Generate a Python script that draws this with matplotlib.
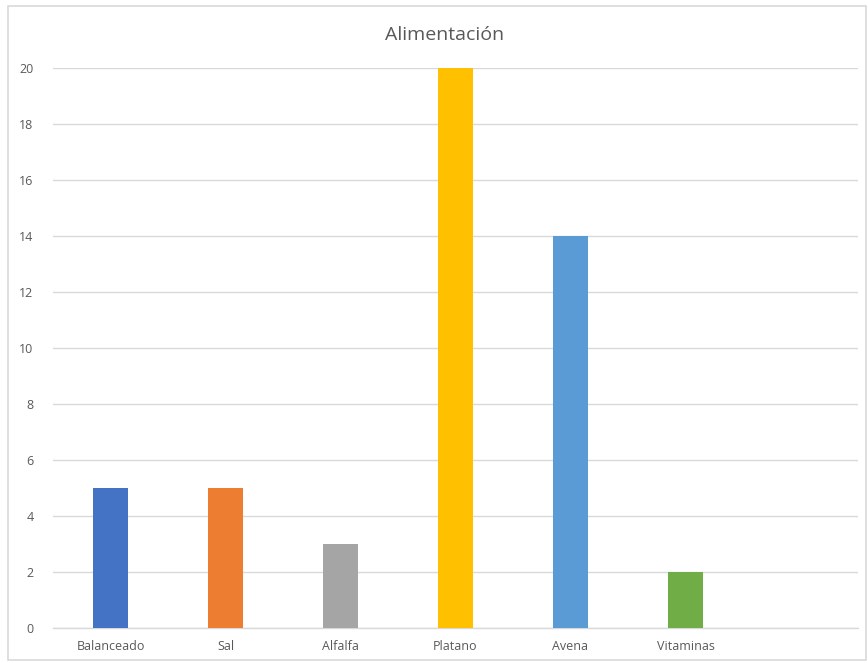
import matplotlib
matplotlib.use("Agg")
import matplotlib.pyplot as plt
from matplotlib.patches import Rectangle

categories = ["Balanceado", "Sal", "Alfalfa", "Platano", "Avena", "Vitaminas", ""]
values = [5, 5, 3, 20, 14, 2, 0]
colors = ["#4472C4", "#ED7D31", "#A5A5A5", "#FFC000", "#5B9BD5", "#70AD47", "#FFFFFF"]
yticks = [0, 2, 4, 6, 8, 10, 12, 14, 16, 18, 20]
title = "Alimentación"

plt.rcParams['font.family'] = ['Open Sans', 'DejaVu Sans']

W, H = 868, 663
fig = plt.figure(figsize=(W / 100, H / 100), dpi=100)
fig.patch.set_facecolor("white")
fig.add_artist(Rectangle((8 / W, 3 / H), (W - 10) / W, (H - 9) / H, transform=fig.transFigure,
                         fill=False, edgecolor="#D9D9D9", linewidth=1.2))

left, right, top, bottom = 53, 858, 68, 628
ax = fig.add_axes([left / W, (H - bottom) / H, (right - left) / W, (bottom - top) / H])
x = list(range(len(categories)))
ax.bar(x[:6], values[:6], width=0.31, color=colors[:6], zorder=3)
ax.set_xlim(-0.5, len(categories) - 0.5)
ax.set_ylim(0, 20)
ax.set_yticks(yticks)
ax.set_yticklabels([str(v) for v in yticks])
ax.set_xticks(x)
ax.set_xticklabels(categories)
ax.grid(axis="y", color="#D9D9D9", linewidth=1.0, zorder=0)
for s in ["top", "right", "left"]:
    ax.spines[s].set_visible(False)
ax.spines["bottom"].set_color("#D9D9D9")
ax.spines["bottom"].set_linewidth(1.0)
ax.tick_params(axis="both", length=0, colors="#595959", labelsize=9)
ax.tick_params(axis="y", pad=14)
ax.tick_params(axis="x", pad=9)
fig.text(445 / W, 1 - 35 / H, title, ha="center", va="center",
         fontsize=14, color="#595959")
fig.savefig("out.png", dpi=100)
